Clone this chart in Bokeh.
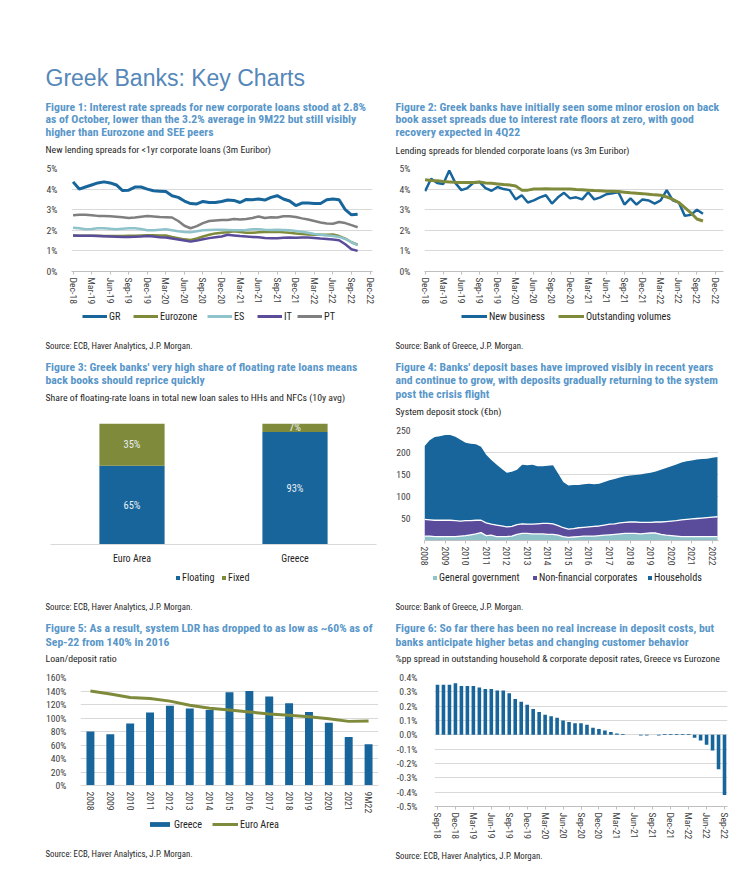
import numpy as np
from bokeh.plotting import figure
from bokeh.layouts import column, row
from bokeh.models import (Range1d, FactorRange, FixedTicker, Label, Legend,
                          ColumnDataSource, PrintfTickFormatter)
from bokeh.transform import stack
from bokeh.core.properties import value
from bokeh.core.validation import silence
from bokeh.core.validation.warnings import MISSING_RENDERERS
from bokeh.embed import file_html
from bokeh.resources import INLINE

silence(MISSING_RENDERERS, True)

# ---------------- data ----------------
# Figure 1: monthly Dec-18 .. Oct-22
ticks1 = ["Dec-18", "Mar-19", "Jun-19", "Sep-19", "Dec-19", "Mar-20", "Jun-20", "Sep-20",
          "Dec-20", "Mar-21", "Jun-21", "Sep-21", "Dec-21", "Mar-22", "Jun-22", "Sep-22", "Dec-22"]
gr = [4.35, 4.0, 4.1, 4.2, 4.3, 4.35, 4.3, 4.2, 3.93, 3.95, 4.1, 4.1, 4.0, 3.92, 3.9, 3.88,
      3.68, 3.6, 3.42, 3.3, 3.28, 3.4, 3.35, 3.35, 3.4, 3.47, 3.45, 3.35, 3.5, 3.48, 3.52, 3.47,
      3.6, 3.68, 3.52, 3.42, 3.2, 3.32, 3.32, 3.3, 3.3, 3.48, 3.52, 3.48, 3.0, 2.75, 2.78]
eurozone = [1.75, 1.74, 1.73, 1.73, 1.73, 1.72, 1.72, 1.72, 1.72, 1.73, 1.74, 1.75, 1.76, 1.76,
            1.75, 1.75, 1.68, 1.62, 1.56, 1.53, 1.6, 1.7, 1.78, 1.85, 1.88, 1.9, 1.95, 1.92,
            1.88, 1.88, 1.9, 1.92, 1.92, 1.93, 1.9, 1.88, 1.85, 1.82, 1.8, 1.79, 1.78, 1.78,
            1.8, 1.72, 1.6, 1.42, 1.3]
es = [2.12, 2.1, 2.05, 2.06, 2.1, 2.1, 2.07, 2.05, 2.08, 2.1, 2.1, 2.06, 2.0, 2.0, 2.03, 2.05,
      2.0, 1.95, 1.92, 1.9, 1.95, 2.0, 2.02, 2.03, 2.03, 2.02, 2.0, 2.0, 2.02, 2.05, 2.05, 2.03,
      2.02, 2.03, 2.02, 2.0, 1.97, 1.93, 1.88, 1.82, 1.78, 1.75, 1.72, 1.68, 1.58, 1.42, 1.28]
it = [1.75, 1.74, 1.74, 1.73, 1.72, 1.71, 1.7, 1.69, 1.68, 1.68, 1.69, 1.7, 1.72, 1.7, 1.66, 1.65,
      1.6, 1.55, 1.5, 1.45, 1.5, 1.57, 1.62, 1.66, 1.7, 1.78, 1.75, 1.72, 1.7, 1.68, 1.66, 1.63,
      1.62, 1.62, 1.64, 1.65, 1.64, 1.65, 1.65, 1.63, 1.6, 1.58, 1.55, 1.52, 1.32, 1.08, 1.0]
pt = [2.73, 2.75, 2.75, 2.73, 2.7, 2.7, 2.68, 2.66, 2.63, 2.6, 2.62, 2.66, 2.69, 2.67, 2.64, 2.63,
      2.62, 2.45, 2.22, 2.1, 2.2, 2.35, 2.45, 2.48, 2.5, 2.5, 2.55, 2.52, 2.55, 2.6, 2.67, 2.6,
      2.63, 2.62, 2.68, 2.68, 2.65, 2.58, 2.52, 2.45, 2.38, 2.33, 2.32, 2.4, 2.35, 2.25, 2.15]
pct_ticks = [0, 1, 2, 3, 4, 5]

# Figure 2: monthly Dec-18 .. Oct-22
new_business = [3.9, 4.5, 4.3, 4.25, 4.9, 4.3, 3.95, 4.05, 4.3, 4.35, 4.05, 3.92, 4.1, 4.0, 3.95,
                3.5, 3.7, 3.35, 3.45, 3.6, 3.7, 3.3, 3.6, 3.82, 3.55, 3.6, 3.5, 3.85, 3.5, 3.6,
                3.75, 3.8, 3.85, 3.25, 3.55, 3.25, 3.5, 3.45, 3.3, 3.45, 3.95, 3.45, 3.35, 2.7,
                2.75, 3.0, 2.8]
outstanding = [4.45, 4.42, 4.4, 4.37, 4.35, 4.33, 4.32, 4.32, 4.32, 4.35, 4.3, 4.28, 4.25, 4.22,
               4.2, 4.15, 3.95, 3.95, 4.0, 4.01, 4.02, 4.01, 4.0, 4.0, 4.0, 3.98, 3.97, 3.95,
               3.93, 3.92, 3.9, 3.89, 3.88, 3.85, 3.82, 3.8, 3.78, 3.75, 3.72, 3.7, 3.62, 3.5,
               3.35, 3.1, 2.85, 2.55, 2.45]

# Figure 3
cats3 = ["Euro Area", "Greece"]
floating3 = [65, 93]
fixed3 = [35, 7]

# Figure 4: quarterly from 2008 (EUR bn)
gov4 = [10, 10, 9, 9, 9, 9, 9, 10, 11, 13, 15, 18, 11, 12, 9, 9, 9, 10, 14, 16, 16, 15, 15, 15,
        14, 14, 12, 9, 7, 8, 9, 10, 10, 10, 11, 12, 13, 14, 15, 16, 16, 16, 15, 16, 17, 17, 14,
        12, 11, 10, 9, 9, 9, 9, 9, 9, 9, 9]
nfc4 = [38, 37, 37, 37, 37, 37, 36, 34, 34, 32, 31, 28, 29, 25, 26, 24, 22, 22, 22, 22, 21, 22,
        23, 24, 25, 24, 22, 20, 19, 19, 20, 20, 21, 22, 22, 23, 24, 24, 25, 25, 26, 26, 26, 25,
        24, 25, 28, 31, 33, 35, 38, 39, 40, 41, 42, 43, 44, 45]
hh4 = [166, 181, 189, 191, 194, 194, 191, 185, 177, 175, 173, 167, 155, 146, 138, 130, 123, 124,
       125, 134, 134, 135, 131, 130, 131, 133, 118, 104, 99, 99, 97, 98, 98, 96, 96, 98, 100,
       102, 103, 105, 106, 107, 109, 111, 113, 115, 119, 122, 125, 128, 130, 132, 133, 134, 134,
       134, 135, 136]
years4 = list(range(2008, 2023))
ticks4_y = [50, 100, 150, 200, 250]

# Figure 5
cats5 = ["2008", "2009", "2010", "2011", "2012", "2013", "2014", "2015", "2016", "2017",
         "2018", "2019", "2020", "2021", "9M22"]
greece5 = [80, 76, 92, 108, 118, 114, 112, 138, 140, 132, 122, 109, 93, 72, 61]
euro5 = [140, 135.5, 130.5, 129, 125, 119, 114.5, 112, 109, 106, 104, 102, 99, 95, 95.5]
ticks5_y = [0, 20, 40, 60, 80, 100, 120, 140, 160]

# Figure 6: monthly Sep-18 .. Sep-22
ticks6 = ["Sep-18", "Dec-18", "Mar-19", "Jun-19", "Sep-19", "Dec-19", "Mar-20", "Jun-20",
          "Sep-20", "Dec-20", "Mar-21", "Jun-21", "Sep-21", "Dec-21", "Mar-22", "Jun-22", "Sep-22"]
dep6 = [0.35, 0.35, 0.35, 0.36, 0.34, 0.34, 0.34, 0.33, 0.32, 0.32, 0.31, 0.31, 0.29, 0.25,
        0.23, 0.21, 0.18, 0.16, 0.14, 0.13, 0.12, 0.10, 0.09, 0.08, 0.08, 0.07, 0.05, 0.04,
        0.03, 0.02, 0.01, 0.005, 0.0, 0.0, -0.005, -0.005, 0.0, -0.005, 0.005, 0.005, 0.005,
        0.005, 0.005, -0.02, -0.04, -0.07, -0.11, -0.24, -0.42]
ticks6_y = [-0.5, -0.4, -0.3, -0.2, -0.1, 0.0, 0.1, 0.2, 0.3, 0.4]

# ---------------- styles ----------------
NARROW = "Roboto Condensed, DejaVu Sans Condensed, Liberation Sans"
SANS = "Liberation Sans"
BLUE = "#17659b"
OLIVE = "#7f8b3b"
TEAL = "#8fc3cb"
PURPLE = "#5b4c9b"
GRAY = "#7f7f7f"
TITLE_C = "#5587b9"
CAP_C = "#5a97c9"
TXT = "#1f1f1f"
TICK_C = "#404040"
GRID_C = "#d9d9d9"
AX_C = "#bfbfbf"
LEG_H = 11
CAP_SIZE = 11.7
SUB_SIZE = 9.8
SRC_SIZE = 8.8
TICK_SIZE = "9.7px"
LEG_SIZE = "10.2px"
NAN = float("nan")


def no_align(p):
    try:
        p.frame_align = False
    except AttributeError:
        pass


def make(fx, fy, w, h, fl, fr, ft, fb, xr, yr):
    p = figure(width=w, height=h, x_range=xr, y_range=yr, output_backend="svg",
               toolbar_location=None,
               min_border_left=fl - fx, min_border_right=fx + w - fr,
               min_border_top=ft - fy, min_border_bottom=fy + h - fb)
    no_align(p)
    p.outline_line_color = None
    p.xgrid.visible = False
    p.ygrid.grid_line_color = GRID_C
    for ax in (p.xaxis[0], p.yaxis[0]):
        ax.major_label_text_font = NARROW
        ax.major_label_text_font_size = TICK_SIZE
        ax.major_label_text_color = TICK_C
        ax.minor_tick_line_color = None
        ax.major_tick_in = 0
    p.xaxis.axis_line_color = AX_C
    p.xaxis.major_tick_line_color = AX_C
    p.xaxis.major_tick_out = 3
    p.xaxis.major_label_standoff = 3
    p.yaxis.axis_line_color = None
    p.yaxis.major_tick_line_color = None
    p.yaxis.major_label_standoff = 8
    return p, (fl, fb)


def tfig(fx, y0, y1, w):
    p = figure(width=w, height=y1 - y0, x_range=Range1d(0, 1), y_range=Range1d(0, 1),
               x_axis_type=None, y_axis_type=None, output_backend="svg",
               toolbar_location=None, min_border=0)
    no_align(p)
    p.outline_line_color = None
    return p, (fx, y1)


def txt(p, g, px, py, text, size, color, bold=False, font=NARROW, baseline="middle"):
    fl, fb = g
    p.add_layout(Label(x=px - fl, y=fb - py, x_units="screen", y_units="screen", text=text,
                       text_font=font, text_font_size=f"{size}px", text_color=color,
                       text_font_style="bold" if bold else "normal",
                       text_align="left", text_baseline=baseline))


def caption(p, g, px, ys, lines):
    for y, line in zip(ys, lines):
        txt(p, g, px, y, line, CAP_SIZE, CAP_C, bold=True)


def key_legend(p, g, py, entries):
    """entries: (label, kind, color, line_width, glyph_left_x, glyph_w, glyph_h)."""
    fl, fb = g
    for lab, kind, color, lw, px, gw, gh in entries:
        if kind == "line":
            r = p.line(x=[NAN], y=[NAN], color=color, line_width=lw)
        else:
            r = p.vbar(x=[NAN], top=[NAN], width=1, color=color, line_width=0)
        lg = Legend(items=[(lab, [r])], orientation="horizontal",
                    location=(px - fl, fb - py - LEG_H / 2),
                    glyph_width=gw, glyph_height=gh, label_height=LEG_H, label_width=1,
                    label_standoff=2, spacing=0, padding=0, margin=0, border_line_color=None,
                    background_fill_alpha=0, label_text_font=NARROW,
                    label_text_font_size=LEG_SIZE, label_text_color=TXT)
        p.add_layout(lg)


def month_axis(p, labels):
    pos = [3 * i for i in range(len(labels))]
    p.xaxis.ticker = FixedTicker(ticks=pos)
    p.xaxis.major_label_overrides = dict(zip(pos, labels))
    p.xaxis.major_label_orientation = "vertical"


SRC_ECB = "Source: ECB, Haver Analytics, J.P. Morgan."
SRC_BOG = "Source: Bank of Greece, J.P. Morgan."
LW = 390   # left column width
RX = 390   # right column x
RW = 353   # right column width

# ================= LEFT COLUMN =================
tl1, gtl1 = tfig(0, 0, 160, LW)
txt(tl1, gtl1, 45, 77, "Greek Banks: Key Charts", 23, TITLE_C, font=SANS, baseline="alphabetic")
caption(tl1, gtl1, 45, [106, 118.7, 131.4],
        ["Figure 1: Interest rate spreads for new corporate loans stood at 2.8%",
         "as of October, lower than the 3.2% average in 9M22 but still visibly",
         "higher than Eurozone and SEE peers"])
txt(tl1, gtl1, 45, 149, "New lending spreads for <1yr corporate loans (3m Euribor)", SUB_SIZE, TXT)

# Figure 1 chart
p1, g1 = make(0, 160, LW, 149, 71, 372, 168, 271, Range1d(-0.25, 48.4), Range1d(0, 5))
p1.yaxis.ticker = FixedTicker(ticks=pct_ticks)
p1.yaxis.formatter = PrintfTickFormatter(format="%d%%")
month_axis(p1, ticks1)
x1 = np.arange(len(gr))
p1.line(x1, gr, color=BLUE, line_width=3)
p1.line(x1, eurozone, color=OLIVE, line_width=2.5)
p1.line(x1, es, color=TEAL, line_width=2.5)
p1.line(x1, it, color=PURPLE, line_width=2.5)
p1.line(x1, pt, color=GRAY, line_width=2.5)

tl2, gtl2 = tfig(0, 309, 416, LW)
key_legend(tl2, gtl2, 316, [("GR", "line", BLUE, 3, 82, 25, 8),
                            ("Eurozone", "line", OLIVE, 3, 133, 25, 8),
                            ("ES", "line", TEAL, 3, 207, 25, 8),
                            ("IT", "line", PURPLE, 3, 257, 25, 8),
                            ("PT", "line", GRAY, 3, 297, 25, 8)])
txt(tl2, gtl2, 45, 345, SRC_ECB, SRC_SIZE, TXT)
caption(tl2, gtl2, 45, [366, 379.5],
        ["Figure 3: Greek banks' very high share of floating rate loans means",
         "back books should reprice quickly"])
txt(tl2, gtl2, 45, 397,
    "Share of floating-rate loans in total new loan sales to HHs and NFCs (10y avg)", SUB_SIZE, TXT)

# Figure 3 chart
src3 = ColumnDataSource(dict(cat=cats3, floating=floating3, fixed=fixed3))
p3, g3 = make(0, 416, LW, 152, 50, 376, 423, 544, FactorRange(*cats3), Range1d(0, 100))
p3.vbar_stack(["floating", "fixed"], x="cat", width=0.4, color=[BLUE, OLIVE],
              line_width=0, source=src3)
p3.yaxis.visible = False
p3.ygrid.visible = False
p3.xaxis.major_tick_line_color = None
p3.xaxis.major_tick_out = 0
p3.xaxis.axis_line_color = GRID_C
p3.xaxis.major_label_standoff = 8
p3.xaxis.major_label_text_font_size = "10px"
p3.xaxis.major_label_text_color = TXT
lab_x = cats3 + cats3
lab_y = [f / 2 for f in floating3] + [f + x / 2 for f, x in zip(floating3, fixed3)]
lab_t = [f"{v}%" for v in floating3 + fixed3]
p3.text(x=lab_x, y=lab_y, text=lab_t, text_align="center", text_baseline="middle",
        text_font=value(NARROW), text_font_size="10.5px", text_color="#e9eef4")

tl3, gtl3 = tfig(0, 568, 670, LW)
key_legend(tl3, gtl3, 577, [("Floating", "box", BLUE, 0, 175, 5, 5),
                            ("Fixed", "box", OLIVE, 0, 221, 5, 5)])
txt(tl3, gtl3, 45, 606.5, SRC_ECB, SRC_SIZE, TXT)
caption(tl3, gtl3, 45, [627.5, 641],
        ["Figure 5: As a result, system LDR has dropped to as low as ~60% as of",
         "Sep-22 from 140% in 2016"])
txt(tl3, gtl3, 45, 658, "Loan/deposit ratio", SUB_SIZE, TXT)

# Figure 5 chart
p5, g5 = make(0, 670, LW, 146, 80, 378, 677, 786, FactorRange(*cats5), Range1d(0, 160))
p5.vbar(x=cats5, top=greece5, width=0.4, color=BLUE, line_width=0)
p5.line(x=cats5, y=euro5, color=OLIVE, line_width=3)
p5.yaxis.ticker = FixedTicker(ticks=ticks5_y)
p5.yaxis.formatter = PrintfTickFormatter(format="%d%%")
p5.xaxis.major_label_orientation = "vertical"
p5.xaxis.major_tick_line_color = None
p5.xaxis.axis_line_color = GRID_C

tl4, gtl4 = tfig(0, 816, 885, LW)
key_legend(tl4, gtl4, 824, [("Greece", "box", BLUE, 0, 147, 25, 6),
                            ("Euro Area", "line", OLIVE, 3, 212, 26, 6)])
txt(tl4, gtl4, 45, 853.5, SRC_ECB, SRC_SIZE, TXT)

# ================= RIGHT COLUMN =================
tr1, gtr1 = tfig(RX, 0, 160, RW)
caption(tr1, gtr1, 395, [106, 118.7, 131.4],
        ["Figure 2: Greek banks have initially seen some minor erosion on back",
         "book asset spreads due to interest rate floors at zero, with good",
         "recovery expected in 4Q22"])
txt(tr1, gtr1, 395, 150, "Lending spreads for blended corporate loans (vs 3m Euribor)", SUB_SIZE, TXT)

# Figure 2 chart
p2, g2 = make(RX, 160, RW, 149, 424, 723, 168, 271, Range1d(-0.1, 49.4), Range1d(0, 5))
p2.yaxis.ticker = FixedTicker(ticks=pct_ticks)
p2.yaxis.formatter = PrintfTickFormatter(format="%d%%")
month_axis(p2, ticks1)
x2 = np.arange(len(new_business))
p2.line(x2, new_business, color=BLUE, line_width=2.5)
p2.line(x2, outstanding, color=OLIVE, line_width=3)

tr2, gtr2 = tfig(RX, 309, 420, RW)
key_legend(tr2, gtr2, 316, [("New business", "line", BLUE, 3, 461, 26, 8),
                            ("Outstanding volumes", "line", OLIVE, 3, 558, 26, 8)])
txt(tr2, gtr2, 395, 345, SRC_BOG, SRC_SIZE, TXT)
caption(tr2, gtr2, 395, [366, 379.5, 393],
        ["Figure 4: Banks' deposit bases have improved visibly in recent years",
         "and continue to grow, with deposits gradually returning to the system",
         "post the crisis flight"])
txt(tr2, gtr2, 395, 411, "System deposit stock (€bn)", SUB_SIZE, TXT)

# Figure 4 chart
t4 = 2008 + np.arange(len(hh4)) / 4
src4 = ColumnDataSource(dict(t=t4, gov=gov4, nfc=nfc4, hh=hh4))
p4, g4 = make(RX, 420, RW, 148, 424, 718, 430, 541, Range1d(2008, 2022.3), Range1d(0, 250))
p4.varea_stack(["gov", "nfc", "hh"], x="t", color=[TEAL, PURPLE, BLUE], source=src4)
p4.line(x="t", y=stack("gov"), source=src4, color="white", line_width=1.3)
p4.line(x="t", y=stack("gov", "nfc"), source=src4, color="white", line_width=1.3)
p4.yaxis.ticker = FixedTicker(ticks=ticks4_y)
p4.xaxis.ticker = FixedTicker(ticks=years4)
p4.xaxis.major_label_orientation = "vertical"

tr3, gtr3 = tfig(RX, 568, 670, RW)
key_legend(tr3, gtr3, 577, [("General government", "box", TEAL, 0, 432, 5, 5),
                            ("Non-financial corporates", "box", PURPLE, 0, 532, 5, 5),
                            ("Households", "box", BLUE, 0, 647, 5, 5)])
txt(tr3, gtr3, 395, 606.5, SRC_BOG, SRC_SIZE, TXT)
caption(tr3, gtr3, 395, [627.5, 641],
        ["Figure 6: So far there has been no real increase in deposit costs, but",
         "banks anticipate higher betas and changing customer behavior"])
txt(tr3, gtr3, 395, 658,
    "%pp spread in outstanding household & corporate deposit rates, Greece vs Eurozone", SUB_SIZE, TXT)

# Figure 6 chart
x6 = np.arange(len(dep6))
p6, g6 = make(RX, 670, RW, 175, 434, 727, 677, 806, Range1d(-0.5, 48.5), Range1d(-0.5, 0.4))
p6.vbar(x=x6, top=dep6, bottom=0, width=0.6, color=BLUE, line_width=0)
p6.yaxis.ticker = FixedTicker(ticks=ticks6_y)
p6.yaxis.formatter = PrintfTickFormatter(format="%.1f%%")
p6.yaxis.major_label_standoff = 11
month_axis(p6, ticks6)

tr4, gtr4 = tfig(RX, 845, 885, RW)
txt(tr4, gtr4, 395, 855, SRC_ECB, SRC_SIZE, TXT)

left = column(tl1, p1, tl2, p3, tl3, p5, tl4)
right = column(tr1, p2, tr2, p4, tr3, p6, tr4)
layout = row(left, right)
open("out.html", "w").write(file_html(layout, INLINE))
